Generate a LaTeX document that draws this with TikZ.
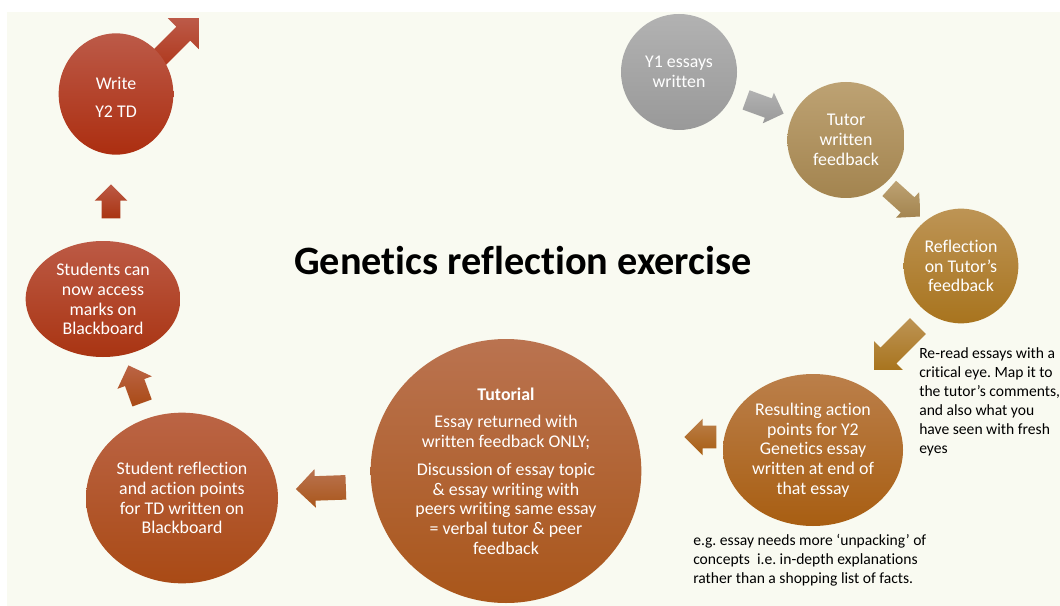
\documentclass[tikz,border=0pt]{standalone}
\usepackage{fontspec}
\setmainfont[Ligatures=NoCommon]{Carlito}
\usetikzlibrary{shapes.geometric,shapes.arrows}
\frenchspacing
\definecolor{bgc}{HTML}{F9FAF1}
\definecolor{grayT}{HTML}{B2B2B2}\definecolor{grayB}{HTML}{999999}
\definecolor{tutT}{HTML}{BDA273}\definecolor{tutB}{HTML}{A3844F}
\definecolor{refT}{HTML}{BD9455}\definecolor{refB}{HTML}{A8741E}
\definecolor{resT}{HTML}{BB7F4A}\definecolor{resB}{HTML}{A85E12}
\definecolor{tuoT}{HTML}{BA7350}\definecolor{tuoB}{HTML}{A9561A}
\definecolor{strT}{HTML}{BB6445}\definecolor{strB}{HTML}{A94A15}
\definecolor{stcT}{HTML}{BC5A45}\definecolor{stcB}{HTML}{A93412}
\definecolor{wrT}{HTML}{BC5A48}\definecolor{wrB}{HTML}{AC2E10}
\tikzset{
  stage/.style={ellipse, inner sep=0pt, align=center, text=white,
    font=\fontsize{13.4}{14.8}\selectfont},
  blockarrow/.style={single arrow, inner xsep=0pt, minimum width=1pt,
    single arrow head indent=0pt},
  note/.style={anchor=north west, inner sep=0pt, align=left, text=black,
    font=\fontsize{11.7}{14.3}\selectfont},
}
\begin{document}
\begin{tikzpicture}[x=0.75pt,y=-0.75pt]
\useasboundingbox (0,0) rectangle (1060,606);
\fill[white] (0,0) rectangle (1060,606);
\fill[bgc] (7,12) rectangle (1060,606);

% outgoing arrow behind the Write circle
\node[blockarrow, top color=wrT, bottom color=wrB, minimum height=60pt,
  inner ysep=7.2pt, single arrow head extend=9pt, rotate=45] (a8) at (167,50) {};

\node[stage, top color=grayT, bottom color=grayB, minimum width=87pt, minimum height=87pt] (y1) at (679,72) {Y1 essays\\written};
\node[stage, top color=tutT, bottom color=tutB, minimum width=88pt, minimum height=87pt] (tut) at (846,140) {Tutor\\written\\feedback};
\node[stage, top color=refT, bottom color=refB, minimum width=86pt, minimum height=86pt] (refl) at (961,266) {Reflection\\on Tutor’s\\feedback};
\node[stage, top color=resT, bottom color=resB, minimum width=135pt, minimum height=114pt] (res) at (813,450) {Resulting action\\points for Y2\\Genetics essay\\written at end of\\that essay};
\node[stage, top color=tuoT, bottom color=tuoB, minimum width=203pt, minimum height=198pt] (tuto) at (506,471) {\textbf{Tutorial}\\[6pt]Essay returned with\\written feedback ONLY;\\[6pt]Discussion of essay topic\\\& essay writing with\\peers writing same essay\\= verbal tutor \& peer\\feedback};
\node[stage, top color=strT, bottom color=strB, minimum width=144pt, minimum height=128pt] (stref) at (182,498) {Student reflection\\and action points\\for TD written on\\Blackboard};
\node[stage, top color=stcT, bottom color=stcB, minimum width=116pt, minimum height=87pt] (stcan) at (103,299) {Students can\\now access\\marks on\\Blackboard};
\node[stage, top color=wrT, bottom color=wrB, minimum width=86pt, minimum height=91pt] (write) at (116,94) {\raisebox{-4pt}[\height][\depth]{\begin{tabular}{@{}c@{}}Write\\[6pt]Y2 TD\end{tabular}}};

% block arrows between stages
\node[blockarrow, top color=grayT, bottom color=grayB, minimum height=30pt,
  inner ysep=7.5pt, single arrow head extend=4.5pt, rotate=-20] (a1) at (760,105) {};
\node[blockarrow, top color=tutT, bottom color=tutB, minimum height=31.5pt,
  inner ysep=7.5pt, single arrow head extend=5.25pt, rotate=-42] (a2) at (901,199) {};
\node[blockarrow, top color=refT, bottom color=refB, minimum height=46.5pt,
  inner ysep=8.25pt, single arrow head extend=6.75pt, rotate=-135] (a3) at (900,344) {};
\node[blockarrow, top color=resT, bottom color=resB, minimum height=24pt,
  inner ysep=8.25pt, single arrow head extend=5.25pt, rotate=180] (a4) at (706,437) {};
\node[blockarrow, top color=tuoT, bottom color=tuoB, minimum height=37.5pt,
  inner ysep=9pt, single arrow head extend=5.25pt, rotate=182] (a5) at (327,488) {};
\node[blockarrow, top color=strT, bottom color=strB, minimum height=30pt,
  inner ysep=7.5pt, single arrow head extend=6pt, rotate=110] (a6) at (137,389) {};
\node[blockarrow, top color=stcT, bottom color=stcB, minimum height=25.5pt,
  inner ysep=6.75pt, single arrow head extend=5.25pt, rotate=90] (a7) at (111,206) {};

% title and notes
\node[font=\bfseries\fontsize{30.2}{36}\selectfont, text=black] (title) at (523,261) {Genetics reflection exercise};
\node[note] (n1) at (919,347) {Re-read essays with a\\critical eye. Map it to\\the tutor’s comments,\\and also what you\\have seen with fresh\\eyes};
\node[note] (n2) at (693,534) {e.g. essay needs more ‘unpacking’ of\\concepts\ \ i.e. in-depth explanations\\rather than a shopping list of facts.};
\end{tikzpicture}
\end{document}
